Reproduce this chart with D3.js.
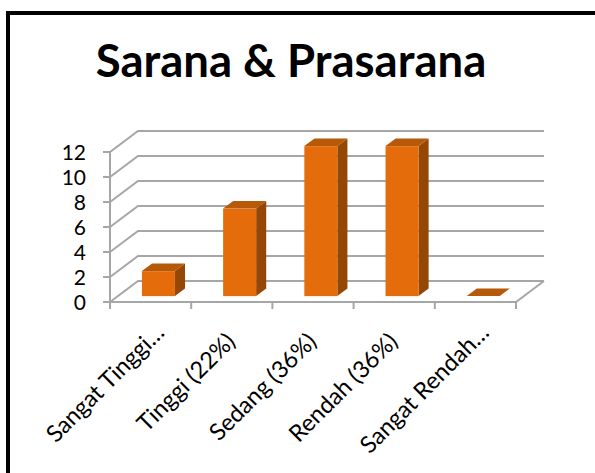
<!DOCTYPE html>
<html>
<head>
<meta charset="utf-8">
<script src="https://cdn.jsdelivr.net/npm/d3@7"></script>
<style>
	body { margin: 0; background: #fff; }
	svg { display: block; font-family: Lato, "Open Sans", sans-serif; }
</style>
</head>
<body>
<div id="chart"></div>
<script>
"use strict"

var width = 595,
	height = 473;

// data
var categories = ["Sangat Tinggi…", "Tinggi (22%)", "Sedang (36%)", "Rendah (36%)", "Sangat Rendah…"];
var values = [2, 7, 12, 12, 0];
var yticks = [0, 2, 4, 6, 8, 10, 12];
var title = "Sarana & Prasarana";

// 3d look: offset of the back wall from the front plane
var depth = {dx: 28, dy: -21};
var barFront = 0.28, barDepth = 0.36; // fractions of the depth

var svg = d3.select("#chart").append("svg")
	.attr("width", width)
	.attr("height", height);

// frame (runs off the right and bottom edge)
svg.append("rect")
	.attr("x", 8).attr("y", 13)
	.attr("width", 700).attr("height", 600)
	.attr("fill", "none")
	.attr("stroke", "#000")
	.attr("stroke-width", 4);

svg.append("text")
	.attr("x", 291).attr("y", 77)
	.attr("text-anchor", "middle")
	.attr("font-weight", "bold")
	.attr("font-size", 45.5)
	.attr("fill", "#000")
	.text(title);

var xscale = d3.scaleBand()
	.domain(categories)
	.range([110, 516]);

var yscale = d3.scaleLinear()
	.domain([0, 12])
	.range([302, 152]);

var grid = "#a6a6a6";
var x0 = xscale.range()[0], x1 = xscale.range()[1];

// gridlines: side wall diagonal + back wall horizontal
svg.selectAll("path.grid").data(yticks).enter().append("path")
	.attr("class", "grid")
	.attr("d", function(d) {
		var y = yscale(d);
		return "M" + x0 + "," + y + "L" + (x0 + depth.dx) + "," + (y + depth.dy) +
			"L" + (x1 + depth.dx) + "," + (y + depth.dy);
	})
	.attr("fill", "none")
	.attr("stroke", grid)
	.attr("stroke-width", 2);

// floor front edge and right edge
svg.append("path")
	.attr("d", "M" + x0 + "," + yscale(0) + "L" + x1 + "," + yscale(0) +
		"L" + (x1 + depth.dx) + "," + (yscale(0) + depth.dy))
	.attr("fill", "none")
	.attr("stroke", grid)
	.attr("stroke-width", 2);

// y axis line + ticks
svg.append("line")
	.attr("x1", x0).attr("x2", x0)
	.attr("y1", yscale(12)).attr("y2", yscale(0))
	.attr("stroke", grid).attr("stroke-width", 2);

svg.selectAll("line.ytick").data(yticks).enter().append("line")
	.attr("class", "ytick")
	.attr("x1", x0 - 7).attr("x2", x0)
	.attr("y1", function(d) {return yscale(d);})
	.attr("y2", function(d) {return yscale(d);})
	.attr("stroke", grid).attr("stroke-width", 2);

svg.selectAll("text.ylab").data(yticks).enter().append("text")
	.attr("class", "ylab")
	.attr("x", 86)
	.attr("y", function(d) {return yscale(d);})
	.attr("dy", "0.36em")
	.attr("text-anchor", "end")
	.attr("font-size", 21)
	.text(function(d) {return d;});

// x ticks on the floor front edge
var xticks = categories.map(function(c) {return xscale(c);}).concat([x1]);
svg.selectAll("line.xtick").data(xticks).enter().append("line")
	.attr("class", "xtick")
	.attr("x1", function(d) {return d;})
	.attr("x2", function(d) {return d;})
	.attr("y1", yscale(0)).attr("y2", yscale(0) + 7)
	.attr("stroke", grid).attr("stroke-width", 2);

// bars
var bw = 33;
var fx = depth.dx * barFront, fy = depth.dy * barFront;
var bdx = depth.dx * barDepth, bdy = depth.dy * barDepth;

var bars = svg.selectAll("g.bar")
	.data(categories.map(function(c, i) {return {c: c, v: values[i]};}))
	.enter().append("g").attr("class", "bar");

function geom(d) {
	var xl = xscale(d.c) + xscale.bandwidth() / 2 - bw / 2 + fx;
	return {xl: xl, xr: xl + bw, yt: yscale(d.v) + fy, yb: yscale(0) + fy};
}

bars.append("path")
	.attr("d", function(d) {
		var g = geom(d);
		return "M" + g.xr + "," + g.yt + "L" + (g.xr + bdx) + "," + (g.yt + bdy) +
			"L" + (g.xr + bdx) + "," + (g.yb + bdy) + "L" + g.xr + "," + g.yb + "Z";
	})
	.attr("fill", "#954806");

bars.append("rect")
	.attr("x", function(d) {return geom(d).xl;})
	.attr("y", function(d) {return geom(d).yt;})
	.attr("width", bw)
	.attr("height", function(d) {var g = geom(d); return g.yb - g.yt;})
	.attr("fill", "#e46c0a");

bars.append("path")
	.attr("d", function(d) {
		var g = geom(d);
		return "M" + g.xl + "," + g.yt + "L" + (g.xl + bdx) + "," + (g.yt + bdy) +
			"L" + (g.xr + bdx) + "," + (g.yt + bdy) + "L" + g.xr + "," + g.yt + "Z";
	})
	.attr("fill", "#b65a09");

// rotated category labels (truncated ones sit a bit further up the slope)
svg.selectAll("text.xlab").data(categories).enter().append("text")
	.attr("class", "xlab")
	.attr("transform", function(d) {
		var cut = /…$/.test(d);
		var x = xscale(d) + xscale.bandwidth() / 2 + (cut ? 15 : 5),
			y = cut ? 334 : 343;
		return "translate(" + x + "," + y + ") rotate(-45)";
	})
	.attr("text-anchor", "end")
	.attr("font-size", 23.5)
	.text(function(d) {return d;});
</script>
</body>
</html>
